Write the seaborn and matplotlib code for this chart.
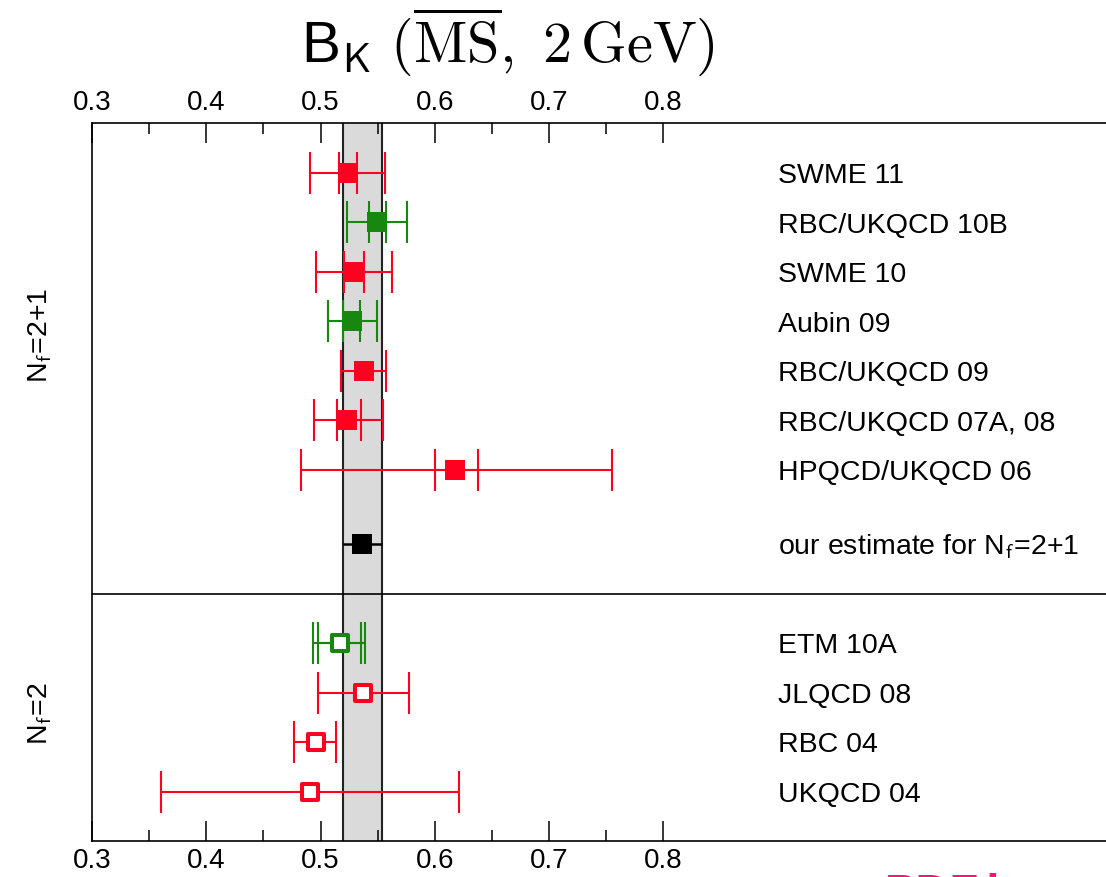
import numpy as np
import pandas as pd
import matplotlib
matplotlib.use("Agg")
import matplotlib.pyplot as plt
import seaborn as sns

# ---------------- data ----------------
names = ["SWME 11", "RBC/UKQCD 10B", "SWME 10", "Aubin 09", "RBC/UKQCD 09",
         "RBC/UKQCD 07A, 08", "HPQCD/UKQCD 06", r"our estimate for N$_\mathsf{f}$=2+1",
         "ETM 10A", "JLQCD 08", "RBC 04", "UKQCD 04"]
central = [0.524, 0.5497, 0.5293, 0.5278, 0.538, 0.5234, 0.6178, 0.536,
           0.5167, 0.5371, 0.4959, 0.4912]
tot_lo = [0.4906, 0.5234, 0.4959, 0.5064, 0.5181, 0.4942, 0.4825, 0.5199,
          0.4936, 0.498, 0.4772, 0.360]
tot_hi = [0.556, 0.576, 0.5626, 0.549, 0.5573, 0.5544, 0.755, 0.5537,
          0.5389, 0.5778, 0.5134, 0.6208]
stat_lo = [0.516, 0.5425, 0.5205, 0.5198, np.nan, 0.5146, 0.600, np.nan,
           0.4977, np.nan, np.nan, np.nan]
stat_hi = [0.532, 0.5575, 0.538, 0.5345, np.nan, 0.5351, 0.6375, np.nan,
           0.5351, np.nan, np.nan, np.nan]
kind = ["red", "green", "red", "green", "red", "red", "red", "black",
        "green", "red", "red", "red"]
filled = [True] * 8 + [False] * 4
rows = [0, 1, 2, 3, 4, 5, 6, 7.5, 9.5, 10.5, 11.5, 12.5]
band = (0.5196, 0.5541)
separator = 8.5
major_ticks = [0.3, 0.4, 0.5, 0.6, 0.7, 0.8]
minor_ticks = [0.35, 0.45, 0.55, 0.65, 0.75]
tick_labels = ["0.3", "0.4", "0.5", "0.6", "0.7", "0.8"]
group_labels = [r"N$_\mathsf{f}$=2+1", r"N$_\mathsf{f}$=2"]
watermark = "PDF.js"

palette = {"red": "#ff0020", "green": "#17870f", "black": "#000000"}

df = pd.DataFrame({"name": names, "value": central, "lo": tot_lo, "hi": tot_hi,
                   "slo": stat_lo, "shi": stat_hi, "kind": kind,
                   "filled": filled, "row": rows})

# ---------------- style ----------------
sns.set_theme(style="ticks")
plt.rcParams["font.family"] = ["Liberation Sans", "DejaVu Sans"]
plt.rcParams["mathtext.fontset"] = "cm"
plt.rcParams["text.color"] = "black"

W, H = 1106, 877
fig = plt.figure(figsize=(W / 100, H / 100), dpi=100)
left_px, right_px, top_px, bot_px = 92, 1112, 123.3, 841
ax = fig.add_axes([left_px / W, 1 - bot_px / H, (right_px - left_px) / W,
                   (bot_px - top_px) / H])
px_per_unit = 1142.6
ax.set_xlim(0.3, 0.3 + (right_px - left_px) / px_per_unit)
ax.set_ylim(13.5, -1)

# band
ax.axvspan(band[0], band[1], color="#dadada", zorder=0, lw=0)
for b in band:
    ax.axvline(b, color="#222222", lw=1.5, zorder=1)
ax.axhline(separator, color="black", lw=1.2, zorder=1)

# error bars
for _, r in df.iterrows():
    col = palette[r["kind"]]
    if r["kind"] == "black":
        ax.errorbar(r["value"], r["row"],
                    xerr=[[r["value"] - r["lo"]], [r["hi"] - r["value"]]],
                    fmt="none", ecolor=col, elinewidth=1.8, capsize=0, zorder=2)
        continue
    ax.errorbar(r["value"], r["row"],
                xerr=[[r["value"] - r["lo"]], [r["hi"] - r["value"]]],
                fmt="none", ecolor=col, elinewidth=1.5, capsize=15,
                capthick=1.5, zorder=2)
    if not np.isnan(r["slo"]):
        ax.errorbar(r["value"], r["row"],
                    xerr=[[r["value"] - r["slo"]], [r["shi"] - r["value"]]],
                    fmt="none", ecolor=col, elinewidth=1.5, capsize=15,
                    capthick=1.5, zorder=2)

# markers
for _, r in df.iterrows():
    col = palette[r["kind"]]
    sub = df.loc[[_]]
    if r["filled"]:
        sns.scatterplot(data=sub, x="value", y="row", marker="s", s=190,
                        color=col, edgecolor=col, linewidth=0, ax=ax,
                        legend=False, zorder=3)
    else:
        sns.scatterplot(data=sub, x="value", y="row", marker="s", s=140,
                        facecolor="white", edgecolor=col, linewidth=2.9,
                        ax=ax, legend=False, zorder=3)

# labels
label_x = 0.3 + (778 - 92) / px_per_unit
for _, r in df.iterrows():
    ax.text(label_x, r["row"] + 0.21, r["name"], fontsize=20.5,
            va="baseline", ha="left", color="black")

# axes styling
ax.set_xlabel("")
ax.set_ylabel("")
ax.set_yticks([])
ax.set_xticks(major_ticks)
ax.set_xticklabels(tick_labels)
ax.set_xticks(minor_ticks, minor=True)
ax.tick_params(axis="x", which="both", direction="in", top=True, bottom=True,
               labeltop=True, labelbottom=True, labelsize=20, pad=5,
               color="black", labelcolor="black")
ax.tick_params(axis="x", which="major", length=14.4, width=1.1)
ax.tick_params(axis="x", which="minor", length=8, width=1.1)
for sp in ax.spines.values():
    sp.set_linewidth(1.2)
    sp.set_color("black")

# group labels
fig.text(40 / W, 1 - 335 / H, group_labels[0], rotation=90, fontsize=20.5,
         ha="center", va="center")
fig.text(40 / W, 1 - 714 / H, group_labels[1], rotation=90, fontsize=20.5,
         ha="center", va="center")

# title
fig.text(508 / W, 1 - 62 / H,
         r"B$_\mathsf{K}$ $(\overline{\mathrm{MS}},\ 2\,\mathrm{GeV})$",
         fontsize=42, ha="center", va="baseline")

# partially visible watermark at the bottom edge (cut off, as in the reference)
fig.text(885 / W, 1 - 873 / H, watermark, fontsize=34, fontweight="bold",
         color="#ff1478", ha="left", va="top")

fig.savefig("out.png", dpi=100)
